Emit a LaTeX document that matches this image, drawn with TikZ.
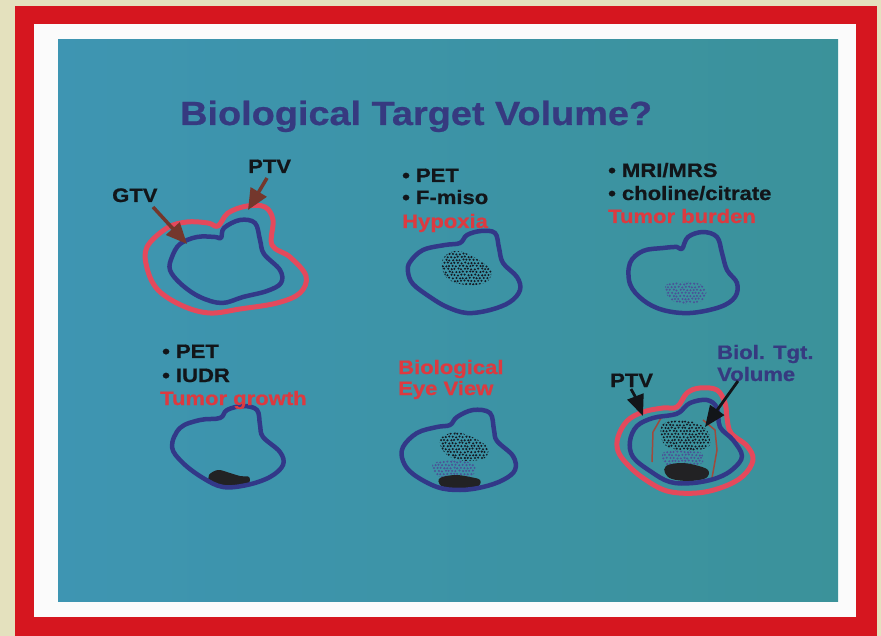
\documentclass[tikz,border=0pt]{standalone}
\usepackage{fontspec}
\setmainfont{Liberation Sans}[FakeStretch=1.13, BoldFeatures={FakeBold=0.7}]
\usetikzlibrary{arrows.meta}

\definecolor{cream}{HTML}{E4E1BE}
\definecolor{framered}{HTML}{D6161F}
\definecolor{slideL}{HTML}{3E95B2}
\definecolor{slideR}{HTML}{3B929A}
\definecolor{ink}{HTML}{363A80}
\definecolor{txt}{HTML}{121519}
\definecolor{rtxt}{HTML}{DC3A40}
\definecolor{gtvc}{HTML}{323888}
\definecolor{ptvc}{HTML}{E4495C}
\definecolor{brownarr}{HTML}{74372C}
\definecolor{btvc}{HTML}{A04A3C}
\definecolor{purpdot}{HTML}{4A5398}
\definecolor{darkdot}{HTML}{141A24}
\definecolor{smudge}{HTML}{222224}

% staggered field of small dots: x0, y0, columns, rows, style
\newcommand\speckle[5]{%
  \foreach \r in {0,...,#4}{%
    \foreach \c in {0,...,#3}{%
      \fill[#5] ({#1+\c*3.4+mod(\r,2)*1.7+0.5*rand},{#2+\r*3.0+0.5*rand}) circle (1.15pt);
    }%
  }%
}

\tikzset{
  gtvline/.style={gtvc, line width=4.5pt, line join=round},
  ptvline/.style={ptvc, line width=5pt, line join=round},
  blob/.style={smooth cycle, tension=0.6},
  lbl/.style={anchor=base west, inner sep=0pt, font=\bfseries\fontsize{19.5}{22}\selectfont},
  blacklbl/.style={lbl, text=txt},
  redlbl/.style={lbl, text=rtxt},
  bluelbl/.style={lbl, text=ink},
  titlelbl/.style={anchor=base west, inner sep=0pt, text=ink, font=\bfseries\fontsize{33.5}{40}\selectfont},
  brownarrow/.style={brownarr, line width=3.5pt, -{Triangle[length=21pt,width=18pt]}},
  blackarrow/.style={txt, line width=2.8pt, -{Triangle[length=21pt,width=17pt]}},
  darkdots/.style={darkdot},
  purpledots/.style={purpdot},
}

\begin{document}
\begin{tikzpicture}[x=1pt, y=-1pt]
\pgfmathsetseed{11}
\useasboundingbox (0,0) rectangle (881,636);

% mount: cream card, red frame, white mat, teal slide
\fill[cream] (0,0) rectangle (881,636);
\fill[framered] (15,6) rectangle (877,636);
\fill[white!97!gray] (34,24) rectangle (856,617);
\shade[left color=slideL, right color=slideR] (58,40) rectangle (838,601);

% title
\node[titlelbl] (title) at (180,125) {Biological Target Volume?};

% ---------- GTV / PTV ----------
\draw[ptvline] plot[blob] coordinates {(147,247) (167,228) (187,222) (208,223) (218,226) (228,213) (247,206) (265,207) (273,220) (272,245) (290,257) (306,276) (300,293) (277,303) (240,309) (210,313) (183,306) (158,290) (147,268)};
\draw[gtvline] plot[blob] coordinates {(172,257) (180,244) (197,237) (215,237) (221,238) (224,228) (240,220) (255,223) (260,240) (264,254) (280,270) (281,283) (267,291) (243,297) (222,303) (200,297) (181,284) (170,270)};
\node[blacklbl] (gtvl) at (112,202) {GTV};
\node[blacklbl] (ptvl) at (248,173) {PTV};
\coordinate (gtvs) at (153,207);
\coordinate (gtvt) at (187,244);
\coordinate (ptvs) at (267,178);
\coordinate (ptvt) at (248,210);
\draw[brownarrow] (gtvs) -- (gtvt);
\draw[brownarrow] (ptvs) -- (ptvt);

% ---------- Hypoxia ----------
\node[blacklbl] (h1) at (402,182) {• PET};
\node[blacklbl] (h2) at (402,204) {• F-miso};
\node[redlbl] (h3) at (402,228) {Hypoxia};
\begin{scope}
  \clip plot[blob] coordinates {(444,257) (455,251) (468,254) (480,261) (491,270) (488,281) (475,285) (460,284) (448,279) (442,268)};
  \speckle{441}{251}{15}{12}{darkdots}
\end{scope}
\draw[gtvline] plot[blob] coordinates {(410,262) (423,250) (445,245) (460,243) (467,235) (481,231) (495,233) (499,248) (503,263) (517,277) (520,290) (510,302) (490,310) (467,313) (447,307) (430,297) (413,284) (408,272)};

% ---------- Tumor burden ----------
\node[blacklbl] (b1) at (608,177) {• MRI/MRS};
\node[blacklbl] (b2) at (608,200) {• choline/citrate};
\node[redlbl] (b3) at (608,223) {Tumor burden};
\begin{scope}
  \clip plot[blob] coordinates {(666,285) (680,282) (697,283) (706,290) (703,300) (690,304) (675,302) (667,295)};
  \speckle{665}{281}{13}{8}{purpledots}
\end{scope}
\draw[gtvline] plot[blob] coordinates {(630,263) (643,251) (663,248) (677,247) (682,249) (688,237) (703,232) (717,237) (722,253) (727,270) (737,283) (735,297) (720,307) (690,313) (663,310) (643,300) (630,284)};

% ---------- Tumor growth ----------
\node[blacklbl] (g1) at (162,358) {• PET};
\node[blacklbl] (g2) at (162,382) {• IUDR};
\fill[smudge] plot[blob] coordinates {(209,475) (218,470) (230,473) (240,476) (249,477) (248,484) (235,487) (220,486) (210,482)};
\draw[gtvline] plot[blob] coordinates {(172,447) (180,428) (200,420) (220,418) (227,410) (243,406) (257,410) (260,425) (263,437) (280,452) (283,465) (270,477) (247,485) (223,487) (203,478) (183,463)};
\node[redlbl] (g3) at (160,405) {Tumor growth};

% ---------- Biological Eye View ----------
\node[redlbl] (e1) at (398,374) {Biological};
\node[redlbl] (e2) at (398,395) {Eye View};
\begin{scope}
  \clip plot[blob] coordinates {(442,437) (455,432) (467,435) (478,440) (488,448) (485,458) (470,461) (455,459) (445,453) (440,444)};
  \speckle{439}{431}{15}{11}{darkdots}
\end{scope}
\begin{scope}
  \clip plot[blob] coordinates {(434,463) (450,460) (465,461) (475,466) (472,476) (455,478) (440,477) (433,470)};
  \speckle{432}{459}{13}{7}{purpledots}
\end{scope}
\fill[smudge] plot[blob] coordinates {(440,478) (455,475) (470,477) (480,480) (478,487) (465,489) (450,488) (440,485)};
\draw[gtvline] plot[blob] coordinates {(403,447) (417,433) (437,427) (450,425) (457,417) (473,410) (490,413) (494,430) (497,441) (513,456) (515,470) (503,480) (483,487) (460,490) (437,487) (413,474) (403,461)};

% ---------- Biological target volume ----------
\begin{scope}
  \clip plot[blob] coordinates {(663,424) (680,420) (697,423) (708,432) (710,445) (698,450) (680,450) (666,446) (661,436)};
  \speckle{660}{419}{15}{11}{darkdots}
\end{scope}
\begin{scope}
  \clip plot[blob] coordinates {(664,452) (680,450) (700,452) (703,462) (690,467) (672,467) (663,461)};
  \speckle{662}{449}{13}{7}{purpledots}
\end{scope}
\fill[smudge] plot[blob] coordinates {(666,466) (680,463) (695,465) (708,470) (706,478) (690,481) (672,479) (665,473)};
\draw[btvc, line width=1.5pt, line join=round] (652,462) -- (653,432) -- (661,418) -- (675,413) (703,420) -- (715,430) -- (717,450) -- (712,478);
\draw[ptvline] plot[blob] coordinates {(618,437) (627,421) (643,412) (663,408) (677,407) (687,393) (700,388) (717,390) (725,403) (727,418) (731,433) (747,446) (753,460) (743,476) (723,487) (697,493) (667,491) (643,478) (627,464) (618,451)};
\draw[gtvline] plot[blob] coordinates {(630,441) (637,426) (653,418) (672,415) (680,412) (690,403) (707,400) (717,408) (720,427) (733,440) (742,456) (733,469) (717,478) (693,483) (670,482) (650,471) (633,457)};
\node[blacklbl] (p6) at (610,387) {PTV};
\node[bluelbl] (v1) at (717,359) {Biol. Tgt.};
\node[bluelbl] (v2) at (717,381) {Volume};
\coordinate (p6s) at (631,389);
\coordinate (p6k) at (636,398);
\coordinate (p6t) at (643,416);
\coordinate (v6s) at (738,381);
\coordinate (v6t) at (705,427);
\draw[blackarrow] (p6s) -- (p6k) -- (p6t);
\draw[blackarrow] (v6s) -- (v6t);
\end{tikzpicture}
\end{document}
